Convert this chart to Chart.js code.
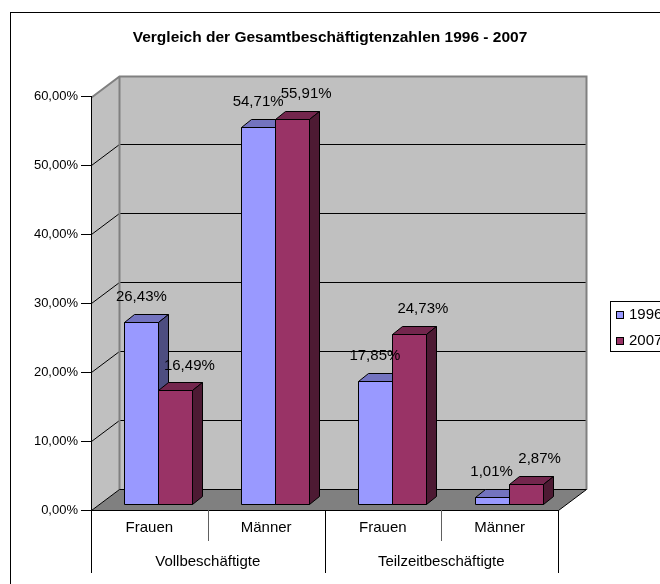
<!DOCTYPE html>
<html>
<head>
<meta charset="utf-8">
<script src="https://cdn.jsdelivr.net/npm/chart.js@4.4.0/dist/chart.umd.min.js"></script>
<style>
  html, body { margin: 0; padding: 0; background: #fff; overflow: hidden; }
</style>
</head>
<body>
<canvas id="chart" width="660" height="584"></canvas>
<script>
// data
var categories = ['Frauen', 'Männer', 'Frauen', 'Männer'];
var groups = ['Vollbeschäftigte', 'Teilzeitbeschäftigte'];
var seriesNames = ['1996', '2007'];
var values1996 = [26.43, 54.71, 17.85, 1.01];
var values2007 = [16.49, 55.91, 24.73, 2.87];
var yTicks = [0, 10, 20, 30, 40, 50, 60];

var FONT = '"Liberation Sans", Arial, sans-serif';

// fake 3D geometry (Excel look)
var wallDepth = { x: 28, y: -21 };
var barDepth = { x: 10, y: -8 };
var barShift = { x: 9, y: -6 };
var labelShift = [0, 14];

function pct(v) {
  return v.toFixed(2).replace('.', ',') + '%';
}

function poly(ctx, pts, fill, stroke, lw) {
  ctx.beginPath();
  ctx.moveTo(pts[0][0], pts[0][1]);
  for (var i = 1; i < pts.length; i++) ctx.lineTo(pts[i][0], pts[i][1]);
  ctx.closePath();
  if (fill) { ctx.fillStyle = fill; ctx.fill(); }
  if (stroke) { ctx.strokeStyle = stroke; ctx.lineWidth = lw || 1; ctx.stroke(); }
}

function line(ctx, x1, y1, x2, y2, color, lw) {
  ctx.beginPath();
  ctx.moveTo(x1, y1);
  ctx.lineTo(x2, y2);
  ctx.strokeStyle = color;
  ctx.lineWidth = lw || 1;
  ctx.stroke();
}

var excel3d = {
  id: 'excel3d',
  beforeDraw: function (chart) {
    var ctx = chart.ctx;
    var a = chart.chartArea;
    var ys = chart.scales.y;
    var dx = wallDepth.x, dy = wallDepth.y;
    var L = Math.round(a.left) + 0.5, R = Math.round(a.right) + 0.5;
    var T = Math.round(a.top) + 0.5, B = Math.round(a.bottom) + 0.5;
    ctx.save();

    // outer frame (runs off the right/bottom edge)
    ctx.strokeStyle = '#000';
    ctx.lineWidth = 1;
    ctx.strokeRect(10.5, 12.5, 800, 800);

    // back wall + side wall
    poly(ctx, [[L + dx, T + dy], [R + dx, T + dy], [R + dx, B + dy], [L + dx, B + dy]], '#c0c0c0');
    poly(ctx, [[L, T], [L + dx, T + dy], [L + dx, B + dy], [L, B]], '#c0c0c0');

    // gridlines
    ys.ticks.forEach(function (t) {
      if (t.value === 0 || t.value === ys.max) return;
      var y = Math.round(ys.getPixelForValue(t.value)) + 0.5;
      line(ctx, L + dx, y + dy, R + dx, y + dy, '#000', 1);
      line(ctx, L, y, L + dx, y + dy, '#000', 1);
    });

    // wall edges
    ctx.beginPath();
    ctx.moveTo(L, T);
    ctx.lineTo(L + dx, T + dy);
    ctx.lineTo(R + dx, T + dy);
    ctx.lineTo(R + dx, B + dy);
    ctx.moveTo(L + dx, T + dy);
    ctx.lineTo(L + dx, B + dy);
    ctx.strokeStyle = '#808080';
    ctx.lineWidth = 2;
    ctx.stroke();

    // floor
    poly(ctx, [[L, B], [R, B], [R + dx, B + dy], [L + dx, B + dy]], '#808080', '#000', 1);
    ctx.restore();
  },
  beforeDatasetsDraw: function (chart) {
    var ctx = chart.ctx;
    var bx = barDepth.x, by = barDepth.y;
    ctx.save();
    for (var i = 0; i < categories.length; i++) {
      for (var d = 0; d < chart.data.datasets.length; d++) {
        var ds = chart.data.datasets[d];
        var el = chart.getDatasetMeta(d).data[i];
        var p = el.getProps(['x', 'y', 'base', 'width'], true);
        var l = Math.round(p.x - p.width / 2 + barShift.x) + 0.5;
        var r = Math.round(p.x + p.width / 2 + barShift.x) + 0.5;
        var t = Math.round(p.y + barShift.y) + 0.5;
        var b = Math.round(p.base + barShift.y) + 0.5;
        poly(ctx, [[l, b], [l, t], [r, t], [r, b]], ds.backgroundColor, '#000', 1);
        poly(ctx, [[l, t], [l + bx, t + by], [r + bx, t + by], [r, t]], ds.topColor, '#000', 1);
        poly(ctx, [[r, t], [r + bx, t + by], [r + bx, b + by], [r, b]], ds.sideColor, '#000', 1);
      }
    }
    ctx.restore();
    return false;
  },
  afterDraw: function (chart) {
    var ctx = chart.ctx;
    var a = chart.chartArea;
    var xs = chart.scales.x;
    var B = Math.round(a.bottom);
    ctx.save();

    // category separators + group labels
    for (var k = 0; k <= categories.length; k++) {
      var x = Math.round(xs.getPixelForValue(k - 0.5)) + 0.5;
      var longTick = k % 2 === 0;
      line(ctx, x, B, x, longTick ? 573 : 541, longTick ? '#000' : '#606060', 1);
    }
    ctx.font = '15px ' + FONT;
    ctx.fillStyle = '#000';
    ctx.textAlign = 'center';
    ctx.textBaseline = 'middle';
    groups.forEach(function (g, j) {
      var x0 = xs.getPixelForValue(j * 2 - 0.5);
      var x1 = xs.getPixelForValue(j * 2 + 1.5);
      ctx.fillText(g, (x0 + x1) / 2, 562);
    });

    // data labels
    chart.data.datasets.forEach(function (ds, d) {
      chart.getDatasetMeta(d).data.forEach(function (el, i) {
        var p = el.getProps(['x', 'y'], true);
        ctx.fillText(pct(ds.data[i]), p.x + barShift.x + labelShift[d], p.y + barShift.y - 25);
      });
    });

    // legend (runs off the right edge like the reference)
    ctx.strokeStyle = '#000';
    ctx.lineWidth = 1;
    ctx.fillStyle = '#fff';
    ctx.fillRect(610.5, 301.5, 100, 50);
    ctx.strokeRect(610.5, 301.5, 100, 50);
    ctx.textAlign = 'left';
    chart.data.datasets.forEach(function (ds, d) {
      var y = 311 + d * 26;
      ctx.fillStyle = ds.backgroundColor;
      ctx.fillRect(616.5, y + 0.5, 7, 7);
      ctx.strokeRect(616.5, y + 0.5, 7, 7);
      ctx.fillStyle = '#000';
      ctx.fillText(ds.label, 629, y + 4);
    });
    ctx.restore();
  }
};

var ctx = document.getElementById('chart').getContext('2d');
var chart = new Chart(ctx, {
  type: 'bar',
  data: {
    labels: categories,
    datasets: [{
      label: seriesNames[0],
      data: values1996,
      backgroundColor: '#9999ff',
      topColor: '#7373bf',
      sideColor: '#4d4d80'
    }, {
      label: seriesNames[1],
      data: values2007,
      backgroundColor: '#993366',
      topColor: '#73264d',
      sideColor: '#4d1a33'
    }]
  },
  options: {
    responsive: false,
    animation: false,
    devicePixelRatio: 1,
    categoryPercentage: 0.5825,
    barPercentage: 1,
    layout: { padding: 0 },
    plugins: {
      legend: { display: false },
      tooltip: { enabled: false },
      title: {
        display: true,
        text: 'Vergleich der Gesamtbeschäftigtenzahlen 1996 - 2007',
        color: '#000',
        font: { family: FONT, size: 15.5, weight: 'bold' },
        padding: { top: 28, bottom: 50 }
      }
    },
    scales: {
      x: {
        grid: { display: false, drawTicks: false },
        border: { display: false },
        ticks: {
          color: '#000',
          font: { family: FONT, size: 15 },
          padding: 9,
          maxRotation: 0,
          autoSkip: false
        },
        afterFit: function (s) { s.height = 74; }
      },
      y: {
        min: yTicks[0],
        max: yTicks[yTicks.length - 1],
        afterBuildTicks: function (s) {
          s.ticks = yTicks.map(function (v) { return { value: v }; });
        },
        grid: { drawOnChartArea: false, color: '#000', tickLength: 10 },
        border: { display: true, color: '#000' },
        ticks: {
          color: '#000',
          font: { family: FONT, size: 13 },
          padding: 3,
          callback: function (v) { return pct(v); }
        },
        afterFit: function (s) { s.width = 91; }
      },
      // empty right-hand axis: reserves the space of walls and legend
      spacer: {
        type: 'linear',
        position: 'right',
        grid: { display: false },
        border: { display: false },
        ticks: { display: false },
        afterFit: function (s) { s.width = 102; }
      }
    }
  },
  plugins: [excel3d]
});
</script>
</body>
</html>
